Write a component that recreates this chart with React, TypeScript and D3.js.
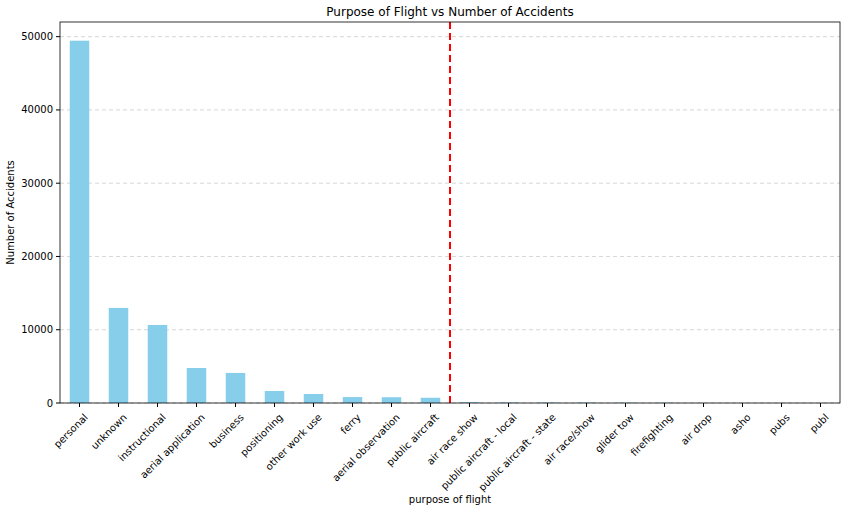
import * as d3 from "d3";

const categories = ["personal","unknown","instructional","aerial application","business","positioning","other work use","ferry","aerial observation","public aircraft","air race show","public aircraft - local","public aircraft - state","air race/show","glider tow","firefighting","air drop","asho","pubs","publ"];
const counts = [49450,12980,10650,4780,4100,1640,1230,810,790,720,100,75,65,60,50,40,10,6,4,1];
const yTicks = [0,10000,20000,30000,40000,50000];

export default function App() {
  const W = 848, H = 512;
  const m = { left: 60, right: 8, top: 22, bottom: 109 };
  const x = d3.scaleBand<number>().domain(d3.range(categories.length)).range([m.left, W - m.right]).paddingInner(0.5).paddingOuter(0.25);
  const y = d3.scaleLinear().domain([0, 52000]).range([H - m.bottom, m.top]);
  const step = x.step();
  const lineX = m.left + step * 10;
  const font = "DejaVu Sans, sans-serif";
  return (
    <svg width={W} height={H} style={{ position: "absolute", left: 0, top: 0 }} fontFamily={font}>
      <rect width={W} height={H} fill="white" />
      {yTicks.map(t => (
        <g key={t}>
          <line x1={m.left} x2={W - m.right} y1={y(t)} y2={y(t)} stroke="#ccc" strokeDasharray="4,3" strokeWidth={0.8} />
          <line x1={m.left - 4} x2={m.left} y1={y(t)} y2={y(t)} stroke="#000" />
          <text x={m.left - 7} y={y(t)} dy="0.35em" textAnchor="end" fontSize={10}>{t}</text>
        </g>
      ))}
      {counts.map((v, i) => (
        <rect key={i} x={x(i)} width={x.bandwidth()} y={y(v)} height={y(0) - y(v)} fill="#87ceeb" />
      ))}
      <line x1={lineX} x2={lineX} y1={m.top} y2={H - m.bottom} stroke="red" strokeWidth={2} strokeDasharray="7,4" />
      <rect x={m.left} y={m.top} width={W - m.left - m.right} height={H - m.top - m.bottom} fill="none" stroke="#000" strokeWidth={0.8} />
      {categories.map((c, i) => {
        const cx = x(i)! + x.bandwidth() / 2;
        const ty = H - m.bottom;
        return (
          <g key={c}>
            <line x1={cx} x2={cx} y1={ty} y2={ty + 4} stroke="#000" />
            <text transform={`translate(${cx + 4},${ty + 10}) rotate(-45)`} textAnchor="end" dy="0.7em" fontSize={10}>{c}</text>
          </g>
        );
      })}
      <text x={(m.left + W - m.right) / 2} y={16} textAnchor="middle" fontSize={12}>Purpose of Flight vs Number of Accidents</text>
      <text x={(m.left + W - m.right) / 2} y={503} textAnchor="middle" fontSize={10}>purpose of flight</text>
      <text transform={`translate(14,${(m.top + H - m.bottom) / 2}) rotate(-90)`} textAnchor="middle" fontSize={10}>Number of Accidents</text>
    </svg>
  );
}
